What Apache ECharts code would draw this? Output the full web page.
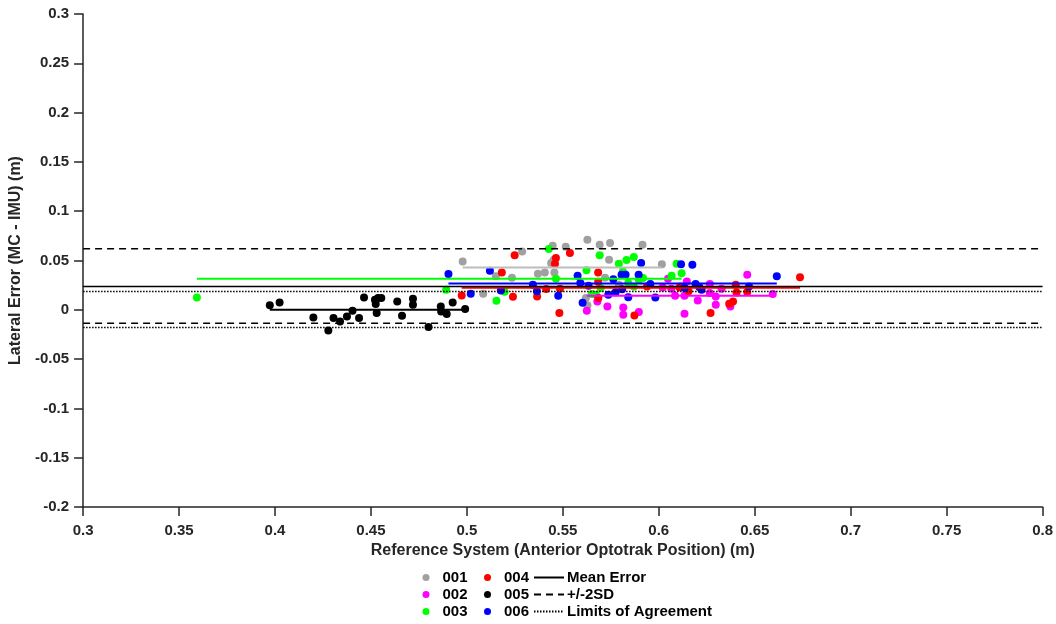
<!DOCTYPE html>
<html><head><meta charset="utf-8">
<script src="https://cdn.jsdelivr.net/npm/echarts@6/dist/echarts.min.js"></script>
<style>html,body{margin:0;padding:0;background:#fff}#c{width:1056px;height:624px}</style>
</head><body><div id="c"></div>
<script>
const subjects = ['001','002','003','004','005','006'];
const pointColors = ['#a0a0a0','#ff00ff','#00ff00','#ff0000','#000000','#0000ff'];
const meanLineColors = ['#bcbcbc','#ff00ff','#00ff00','#ff0000','#000000','#0000ff'];

const s001 = [[0.4978,0.0491],[0.5085,0.0163],[0.5151,0.0339],[0.5235,0.0326],[0.5288,0.0592],[0.5370,0.0366],[0.5406,0.0379],[0.5456,0.0379],[0.5439,0.0475],[0.5453,0.0508],[0.5447,0.0650],[0.5515,0.0640],[0.5628,0.0711],[0.5692,0.0660],[0.5746,0.0677],[0.5915,0.0660],[0.5741,0.0508],[0.5720,0.0326],[0.5620,0.0120],[0.5628,0.0045],[0.5792,0.0255],[0.6016,0.0462]];
const s002 = [[0.5625,-0.0009],[0.5680,0.0085],[0.5732,0.0034],[0.5815,0.0024],[0.5815,-0.0050],[0.5896,-0.0022],[0.6020,0.0227],[0.6048,0.0315],[0.6065,0.0214],[0.6085,0.0143],[0.6134,0.0143],[0.6134,-0.0040],[0.6146,0.0288],[0.6203,0.0095],[0.6266,0.0262],[0.6266,0.0170],[0.6297,0.0136],[0.6297,0.0052],[0.6327,0.0214],[0.6373,0.0034],[0.6461,0.0356],[0.6594,0.0160],[0.6115,0.0237]];
const s003 = [[0.3593,0.0126],[0.4892,0.0204],[0.5154,0.0092],[0.5197,0.0184],[0.5427,0.0617],[0.5464,0.0315],[0.5623,0.0400],[0.5692,0.0552],[0.5792,0.0467],[0.5832,0.0505],[0.5870,0.0535],[0.5813,0.0389],[0.5918,0.0322],[0.5896,0.0305],[0.5841,0.0272],[0.5870,0.0237],[0.5697,0.0221],[0.5651,0.0160],[0.6067,0.0346],[0.6093,0.0467],[0.6119,0.0371],[0.5672,0.0153]];
const s004 = [[0.4973,0.0146],[0.5182,0.0379],[0.5249,0.0552],[0.5240,0.0133],[0.5366,0.0136],[0.5413,0.0211],[0.5464,0.0525],[0.5459,0.0467],[0.5485,0.0214],[0.5482,-0.0032],[0.5537,0.0576],[0.5684,0.0379],[0.5684,0.0285],[0.5685,0.0120],[0.5873,-0.0057],[0.5939,0.0237],[0.6108,0.0227],[0.6155,0.0187],[0.6270,-0.0032],[0.6367,0.0062],[0.6387,0.0085],[0.6401,0.0255],[0.6405,0.0176],[0.6461,0.0180],[0.6736,0.0329]];
const s005 = [[0.3973,0.0045],[0.4024,0.0075],[0.4200,-0.0077],[0.4278,-0.0209],[0.4305,-0.0083],[0.4339,-0.0118],[0.4375,-0.0067],[0.4404,-0.0009],[0.4438,-0.0083],[0.4464,0.0126],[0.4521,0.0102],[0.4537,0.0120],[0.4554,0.0120],[0.4525,0.0059],[0.4530,-0.0032],[0.4637,0.0085],[0.4662,-0.0060],[0.4719,0.0113],[0.4719,0.0052],[0.4800,-0.0174],[0.4864,0.0034],[0.4866,-0.0016],[0.4895,-0.0043],[0.4926,0.0075],[0.4991,0.0008]];
const s006 = [[0.4904,0.0363],[0.5020,0.0163],[0.5120,0.0396],[0.5177,0.0197],[0.5344,0.0255],[0.5365,0.0187],[0.5476,0.0143],[0.5577,0.0346],[0.5591,0.0272],[0.5634,0.0244],[0.5603,0.0072],[0.5737,0.0153],[0.5763,0.0310],[0.5775,0.0178],[0.5806,0.0356],[0.5827,0.0356],[0.5809,0.0209],[0.5841,0.0128],[0.5895,0.0356],[0.5908,0.0475],[0.5956,0.0262],[0.5982,0.0126],[0.6116,0.0462],[0.6175,0.0457],[0.6135,0.0221],[0.6192,0.0262],[0.6211,0.0231],[0.6223,0.0204],[0.6470,0.0237],[0.6615,0.0339]];
const subjectPoints = [s001, s002, s003, s004, s005, s006];

const meanLineStart = [0.4978, 0.5625, 0.3593, 0.4973, 0.3973, 0.4904];
const meanLineEnd   = [0.6016, 0.6594, 0.6119, 0.6736, 0.4991, 0.6615];
const meanLineValue = [0.043, 0.0143, 0.0316, 0.0224, 0.0001, 0.0268];

const xRange = [0.3, 0.8];
const meanError = 0.0237;
const twoSD = [0.062, -0.0137];
const limitsOfAgreement = [0.0185, -0.018];

const xTicks = {min: 0.3, max: 0.8, interval: 0.05};
const yTicks = {min: -0.2, max: 0.3, interval: 0.05};

const FONT = '"Liberation Sans", Arial, sans-serif';
const AX = '#262626';

const series = [];
subjects.forEach((s, i) => {
  series.push({
    name: s, type: 'scatter', data: subjectPoints[i], symbol: 'circle', symbolSize: 8,
    itemStyle: {color: pointColors[i], opacity: 1}, z: 2, silent: true
  });
});
subjects.forEach((s, i) => {
  series.push({
    name: 'mean' + s, type: 'line', showSymbol: false, symbol: 'none',
    data: [[meanLineStart[i], meanLineValue[i]], [meanLineEnd[i], meanLineValue[i]]],
    lineStyle: {color: meanLineColors[i], width: 2}, z: 3, silent: true
  });
});
series.push({
  name: 'Mean Error', type: 'line', symbol: 'none', showSymbol: false,
  data: [[xRange[0], meanError], [xRange[1], meanError]],
  lineStyle: {color: '#000', width: 1.5, type: 'solid'}, itemStyle: {color: '#000'}, z: 4, silent: true
});
twoSD.forEach(v => series.push({
  name: '+/-2SD', type: 'line', symbol: 'none', showSymbol: false,
  data: [[xRange[0], v], [xRange[1], v]],
  lineStyle: {color: '#000', width: 1.5, type: [7, 5]}, itemStyle: {color: '#000'}, z: 4, silent: true
}));
limitsOfAgreement.forEach(v => series.push({
  name: 'Limits of Agreement', type: 'line', symbol: 'none', showSymbol: false,
  data: [[xRange[0], v], [xRange[1], v]],
  lineStyle: {color: '#000', width: 1.5, type: [1.5, 1.5]}, itemStyle: {color: '#000'}, z: 4, silent: true
}));

const legendText = {fontFamily: FONT, fontWeight: 'bold', fontSize: 15, color: '#000', lineHeight: 17};
function ptLegend(names, left) {
  return {
    data: names.map(n => ({name: n, icon: 'circle'})), orient: 'vertical', left: left, top: 569,
    itemWidth: 7, itemHeight: 7, itemGap: 0, padding: 0, selectedMode: false,
    textStyle: Object.assign({padding: [0, 0, 0, 8]}, legendText)
  };
}

const chart = echarts.init(document.getElementById('c'), null, {renderer: 'canvas'});
chart.setOption({
  animation: false,
  backgroundColor: '#fff',
  grid: {left: 77, top: 14, width: 966, height: 493, containLabel: false},
  legend: [
    ptLegend(['001', '002', '003'], 422.5),
    ptLegend(['004', '005', '006'], 484),
    {
      data: ['Mean Error', '+/-2SD', 'Limits of Agreement'], orient: 'vertical', left: 533, top: 569,
      itemWidth: 30, itemHeight: 14, itemGap: 0, padding: 0, selectedMode: false,
      itemStyle: {opacity: 0, borderWidth: 0},
      textStyle: Object.assign({padding: [0, 0, 0, -2]}, legendText)
    }
  ],
  xAxis: {
    type: 'value', min: xTicks.min, max: xTicks.max, interval: xTicks.interval,
    name: 'Reference System (Anterior Optotrak Position) (m)', nameLocation: 'middle', nameGap: 35,
    nameTextStyle: {fontFamily: FONT, fontWeight: 'bold', fontSize: 16, color: AX},
    axisLine: {show: true, onZero: false, lineStyle: {color: AX, width: 1.5}},
    axisTick: {show: true, inside: false, length: 9, lineStyle: {color: AX, width: 1.5}},
    axisLabel: {fontFamily: FONT, fontWeight: 'bold', fontSize: 15, color: AX, margin: 16},
    splitLine: {show: false}
  },
  yAxis: {
    type: 'value', min: yTicks.min, max: yTicks.max, interval: yTicks.interval,
    name: 'Lateral Error (MC - IMU) (m)', nameLocation: 'middle', nameGap: 50, nameRotate: 90,
    nameTextStyle: {fontFamily: FONT, fontWeight: 'bold', fontSize: 16, color: AX},
    axisLine: {show: true, onZero: false, lineStyle: {color: AX, width: 1.5}},
    axisTick: {show: true, inside: false, length: 9, lineStyle: {color: AX, width: 1.5}},
    axisLabel: {fontFamily: FONT, fontWeight: 'bold', fontSize: 15, color: AX, margin: 14},
    splitLine: {show: false}
  },
  series: series
});
</script></body></html>
